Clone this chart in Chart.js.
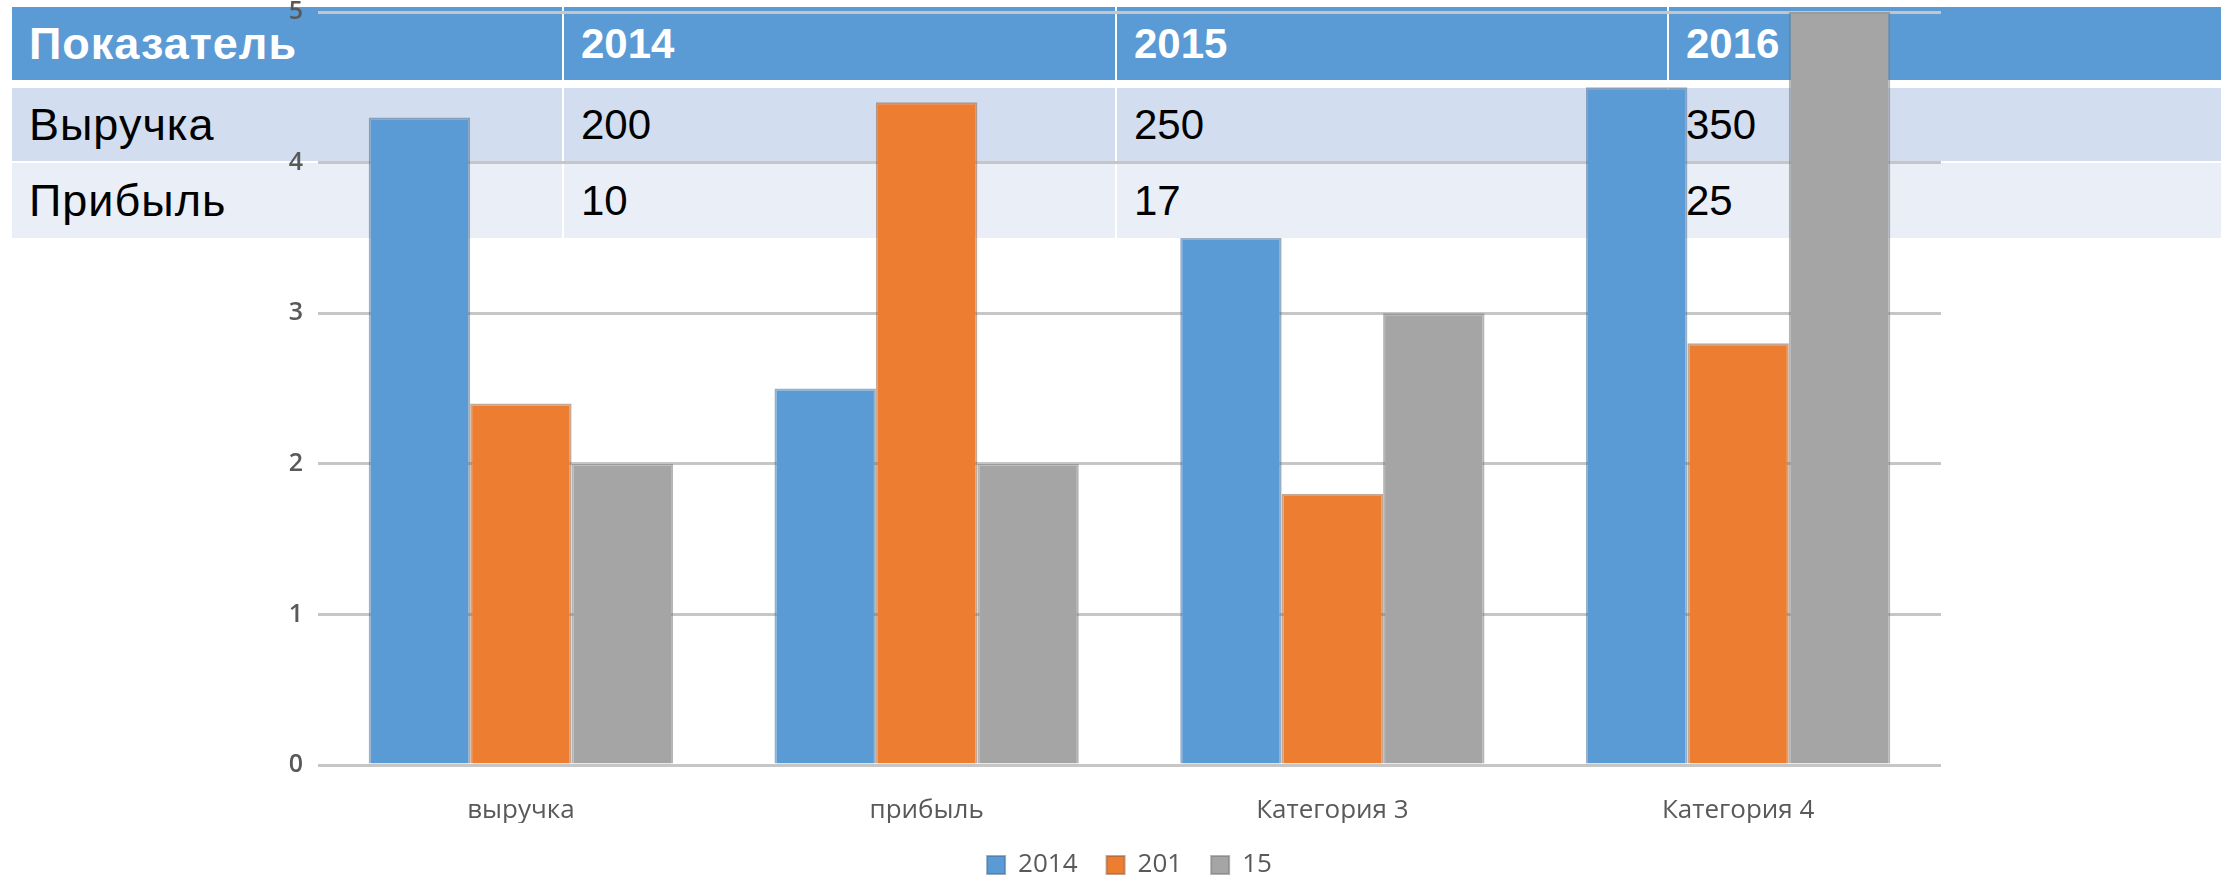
<!DOCTYPE html>
<html lang="ru">
<head>
<meta charset="utf-8">
<title>Выручка и прибыль</title>
<script src="https://cdn.jsdelivr.net/npm/chart.js@4"></script>
<style>
    html, body { margin: 0; padding: 0; background: #fff; overflow: hidden; }
    body { width: 2224px; height: 883px; position: relative; }
    #tabla { position: absolute; left: 12px; top: 7px; font-family: "Liberation Sans", Arial, sans-serif; font-size: 42px; }
    .fila { display: flex; }
    .fila div { box-sizing: border-box; padding-left: 17px; white-space: nowrap; overflow: hidden; }
    .fila div + div { border-left: 2px solid #fff; }
    .fila div:first-child { font-size: 45px; letter-spacing: 1px; }
    .cab { height: 73px; line-height: 73px; background: #5b9bd5; color: #fff; font-weight: bold; }
    .f1 { margin-top: 8px; height: 73px; line-height: 73px; background: #d2deef; color: #000; }
    .f2 { margin-top: 2px; height: 75px; line-height: 75px; background: #e9eef7; color: #000; }
    #contenedorGrafico { position: absolute; left: 0; top: 0; width: 2224px; height: 888px; z-index: 2; }
</style>
</head>
<body class="index">

<div id="tabla"></div>
<div id="contenedorGrafico"><canvas id="graficoBarras"></canvas></div>

<script>
// tabla de arriba
var tablaCabecera = ['Показатель', '2014', '2015', '2016'];
var filaVyruchka = ['Выручка', '200', '250', '350'];
var filaPribyl = ['Прибыль', '10', '17', '25'];
var anchosColumnas = [550, 553, 552, 554];

// datos del grafico
var categorias = ['выручка', 'прибыль', 'Категория 3', 'Категория 4'];
var nombresSeries = ['2014', '201', '15'];
var serie2014 = [4.3, 2.5, 3.5, 4.5];
var serie201 = [2.4, 4.4, 1.8, 2.8];
var serie15 = [2, 2, 3, 5];

var colores = ['#5b9bd5', '#ed7d31', '#a5a5a5'];
var bordes = ['rgba(70,110,150,0.55)', 'rgba(150,95,60,0.55)', 'rgba(120,120,120,0.55)'];

function pintarTabla() {
    var filas = [[tablaCabecera, 'cab'], [filaVyruchka, 'f1'], [filaPribyl, 'f2']];
    var html = '';
    filas.forEach(function (f) {
        html += '<div class="fila ' + f[1] + '">';
        f[0].forEach(function (celda, i) {
            html += '<div style="width:' + anchosColumnas[i] + 'px">' + celda + '</div>';
        });
        html += '</div>';
    });
    document.getElementById('tabla').innerHTML = html;
}

function graficoBarras() {
    var fuente = { family: '"Open Sans", sans-serif', size: 26 };
    var ctx = document.getElementById('graficoBarras').getContext('2d');
    var series = [serie2014, serie201, serie15];

    var chart = new Chart(ctx, {
        type: 'bar',
        data: {
            labels: categorias,
            datasets: series.map(function (valores, i) {
                return {
                    label: nombresSeries[i],
                    data: valores,
                    backgroundColor: colores[i],
                    borderColor: bordes[i],
                    borderWidth: 2,
                    categoryPercentage: 0.75,
                    barPercentage: 1.0
                };
            })
        },
        options: {
            responsive: true,
            maintainAspectRatio: false,
            animation: false,
            layout: { padding: { left: 258, right: 283, top: 12, bottom: 0 } },
            plugins: {
                tooltip: { enabled: false },
                legend: {
                    display: true,
                    position: 'bottom',
                    fullSize: false, // centrada bajo el area del grafico
                    labels: { boxWidth: 18, boxHeight: 18, padding: 29, color: '#595959', font: fuente }
                }
            },
            scales: {
                x: {
                    grid: { display: false },
                    border: { display: false },
                    ticks: { color: '#595959', font: fuente, padding: 22, maxRotation: 0 },
                    afterFit: function (scale) {
                        scale.height = 58;
                        scale.paddingLeft = 0;
                        scale.paddingRight = 0;
                    }
                },
                y: {
                    min: 0,
                    max: 5,
                    ticks: { stepSize: 1, color: '#595959', font: { family: '"Open Sans", sans-serif', size: 25, weight: '600' }, padding: 15 },
                    grid: { color: '#c6c6c6', lineWidth: 3, drawTicks: false },
                    border: { display: false },
                    afterFit: function (scale) {
                        scale.width = 60;
                        scale.paddingTop = 0;
                        scale.paddingBottom = 0;
                    }
                }
            }
        }
    });
}

pintarTabla();
graficoBarras();
</script>
</body>
</html>
